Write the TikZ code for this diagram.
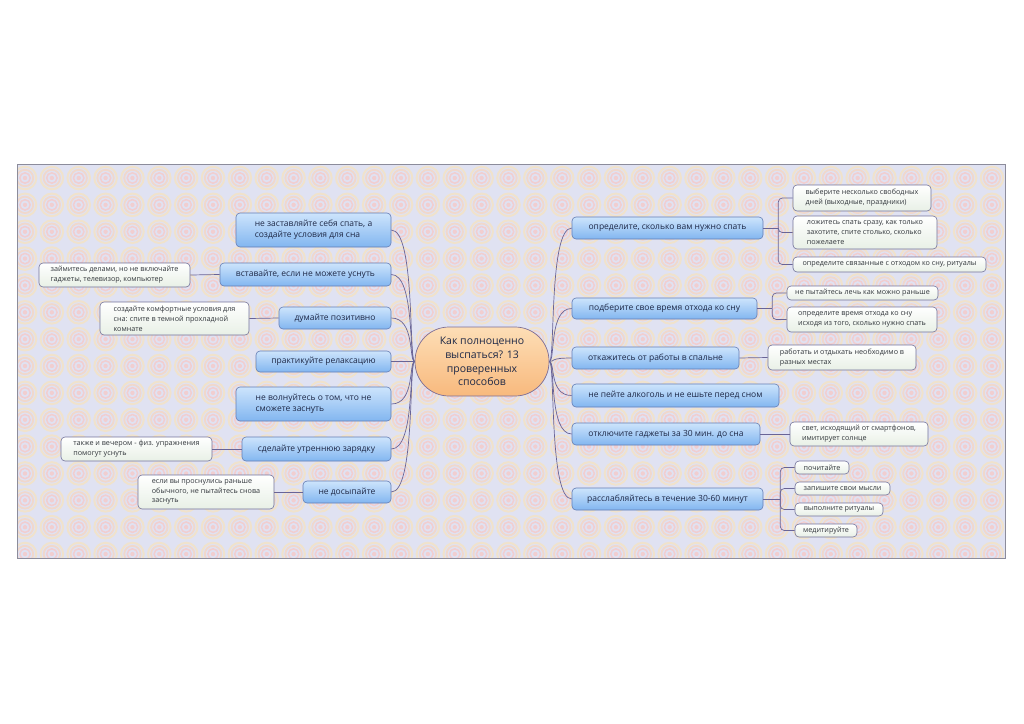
\documentclass[tikz,border=0pt]{standalone}
\usepackage{fontspec}
\setmainfont{Open Sans}
\definecolor{bgcol}{RGB}{224,226,242}
\definecolor{ringA}{RGB}{240,216,204}
\definecolor{ringB}{RGB}{241,206,208}
\definecolor{ringC}{RGB}{240,226,204}
\definecolor{framecol}{RGB}{140,140,155}
\definecolor{maintop}{RGB}{205,228,252}
\definecolor{mainbot}{RGB}{130,182,240}
\definecolor{mainborder}{RGB}{100,125,180}
\definecolor{maintext}{RGB}{30,40,70}
\definecolor{subtop}{RGB}{255,255,255}
\definecolor{subbot}{RGB}{232,240,230}
\definecolor{subborder}{RGB}{115,115,155}
\definecolor{subtext}{RGB}{50,55,60}
\definecolor{hubtop}{RGB}{253,222,182}
\definecolor{hubbot}{RGB}{248,185,125}
\definecolor{hubborder}{RGB}{125,110,150}
\definecolor{linecol}{RGB}{105,100,150}
\begin{document}
\begin{tikzpicture}[x=1pt,y=-1pt,
  mainbox/.style={draw=mainborder, line width=0.6pt, rounded corners=4pt,
    top color=maintop, bottom color=mainbot, text=maintext,
    font=\fontsize{8.5}{11.5}\selectfont, align=left, inner sep=0pt},
  subbox/.style={draw=subborder, line width=0.6pt, rounded corners=4pt,
    top color=subtop, bottom color=subbot, text=subtext,
    font=\fontsize{7.2}{9.8}\selectfont, align=left, inner sep=0pt},
  hub/.style={draw=hubborder, line width=0.7pt, rounded corners=34pt,
    top color=hubtop, bottom color=hubbot, text=maintext,
    font=\fontsize{10.5}{13.7}\selectfont, align=center, inner sep=0pt},
  conn/.style={draw=linecol, line width=0.7pt},
  branch/.style={draw=linecol, line width=0.7pt, rounded corners=4pt}]
\useasboundingbox (0,0) rectangle (1024,723);
\fill[white] (0,0) rectangle (1024,723);
% background pattern
\fill[bgcol] (17,164) rectangle (1005,558);
\begin{scope}
\clip (17,164) rectangle (1005,558);
\foreach \i in {0,...,37}{
  \foreach \j in {0,...,15}{
    \draw[ringC, line width=2pt] ({25+26.86*\i},{178+26.86*\j}) circle (11.3pt);
    \draw[ringA, line width=1.8pt] ({25+26.86*\i},{178+26.86*\j}) circle (8.2pt);
    \draw[ringB, line width=1.5pt] ({25+26.86*\i},{178+26.86*\j}) circle (5.2pt);
    \fill[ringB] ({25+26.86*\i},{178+26.86*\j}) circle (2.2pt);
  }
}
\end{scope}
\draw[framecol, line width=0.8pt] (17,164) rectangle (1005,558);

% hub
\node[hub, minimum width=134pt, minimum height=69pt] (C) at (482,361.5)
  {Как полноценно\\выспаться? 13\\проверенных\\способов};

% left main nodes
\node[mainbox, minimum width=155pt, minimum height=34pt] (L1) at (313.5,230)
  {не заставляйте себя спать, а\\создайте условия для сна};
\node[mainbox, minimum width=171pt, minimum height=23pt] (L2) at (305.5,274.5)
  {вставайте, если не можете уснуть};
\node[mainbox, minimum width=112pt, minimum height=22pt] (L3) at (335,318)
  {думайте позитивно};
\node[mainbox, minimum width=135pt, minimum height=21pt] (L4) at (323.5,361.5)
  {практикуйте релаксацию};
\node[mainbox, minimum width=155pt, minimum height=34pt] (L5) at (313.5,404)
  {не волнуйтесь о том, что не\\сможете заснуть};
\node[mainbox, minimum width=149pt, minimum height=24pt] (L6) at (316.5,449)
  {сделайте утреннюю зарядку};
\node[mainbox, minimum width=88pt, minimum height=22pt] (L7) at (347,492)
  {не досыпайте};

% left sub nodes
\node[subbox, minimum width=151pt, minimum height=24pt] (LS2) at (114.5,275)
  {займитесь делами, но не включайте\\гаджеты, телевизор, компьютер};
\node[subbox, minimum width=149pt, minimum height=33pt] (LS3) at (174.5,318.5)
  {создайте комфортные условия для\\сна: спите в темной прохладной\\комнате};
\node[subbox, minimum width=151pt, minimum height=24pt] (LS6) at (136.5,449)
  {также и вечером - физ. упражнения\\помогут уснуть};
\node[subbox, minimum width=136pt, minimum height=34pt] (LS7) at (206,492)
  {если вы проснулись раньше\\обычного, не пытайтесь снова\\заснуть};

% right main nodes
\node[mainbox, minimum width=191pt, minimum height=22pt] (R1) at (667.5,228)
  {определите, сколько вам нужно спать};
\node[mainbox, minimum width=185pt, minimum height=21pt] (R2) at (664.5,308.5)
  {подберите свое время отхода ко сну};
\node[mainbox, minimum width=167pt, minimum height=22pt] (R3) at (655.5,358)
  {откажитесь от работы в спальне};
\node[mainbox, minimum width=207pt, minimum height=23pt] (R4) at (675.5,395.5)
  {не пейте алкоголь и не ешьте перед сном};
\node[mainbox, minimum width=188pt, minimum height=22pt] (R5) at (666,434)
  {отключите гаджеты за 30 мин. до сна};
\node[mainbox, minimum width=191pt, minimum height=22pt] (R6) at (667.5,499)
  {расслабляйтесь в течение 30-60 минут};

% right sub nodes
\node[subbox, minimum width=138pt, minimum height=26pt] (R1a) at (862,198)
  {выберите несколько свободных\\дней (выходные, праздники)};
\node[subbox, minimum width=144pt, minimum height=33pt] (R1b) at (865,232.5)
  {ложитесь спать сразу, как только\\захотите, спите столько, сколько\\пожелаете};
\node[subbox, minimum width=193pt, minimum height=15pt] (R1c) at (889.5,264.5)
  {определите связанные с отходом ко сну, ритуалы};
\node[subbox, minimum width=151pt, minimum height=14pt] (R2a) at (862.5,293)
  {не пытайтесь лечь как можно раньше};
\node[subbox, minimum width=150pt, minimum height=25pt] (R2b) at (862,319.5)
  {определите время отхода ко сну\\исходя из того, сколько нужно спать};
\node[subbox, minimum width=148pt, minimum height=25pt] (R3a) at (842,357.5)
  {работать и отдыхать необходимо в\\разных местах};
\node[subbox, minimum width=138pt, minimum height=24pt] (R5a) at (859,434)
  {свет, исходящий от смартфонов,\\имитирует солнце};
\node[subbox, minimum width=54pt, minimum height=13pt] (R6a) at (822,467.5)
  {почитайте};
\node[subbox, minimum width=95pt, minimum height=13pt] (R6b) at (842.5,488.5)
  {запишите свои мысли};
\node[subbox, minimum width=88pt, minimum height=13pt] (R6c) at (839,509.5)
  {выполните ритуалы};
\node[subbox, minimum width=62pt, minimum height=13pt] (R6d) at (826,530.5)
  {медитируйте};

% hub connectors, left
\foreach \n in {L1,L2,L3,L4,L5,L6,L7}{
  \draw[conn] (C.west) .. controls +(-6,0) and +(24,0) .. (\n.east);
}
% hub connectors, right
\foreach \n in {R1,R2,R3,R4,R5,R6}{
  \draw[conn] (C.east) .. controls +(6,0) and +(-23,0) .. (\n.west);
}

% left sub connectors
\draw[conn] (L2.west) -- (LS2.east);
\draw[conn] (L3.west) -- (LS3.east);
\draw[conn] (L6.west) -- (LS6.east);
\draw[conn] (L7.west) -- (LS7.east);

% right sub connectors
\draw[conn] (R1.east) -- ++(15,0) coordinate (b1);
\foreach \s in {R1a,R1b,R1c}{ \draw[branch] (b1) |- (\s.west); }
\draw[conn] (R2.east) -- ++(15,0) coordinate (b2);
\foreach \s in {R2a,R2b}{ \draw[branch] (b2) |- (\s.west); }
\draw[conn] (R3.east) -- (R3a.west);
\draw[conn] (R5.east) -- (R5a.west);
\draw[conn] (R6.east) -- ++(17,0) coordinate (b6);
\foreach \s in {R6a,R6b,R6c,R6d}{ \draw[branch] (b6) |- (\s.west); }
\end{tikzpicture}
\end{document}
